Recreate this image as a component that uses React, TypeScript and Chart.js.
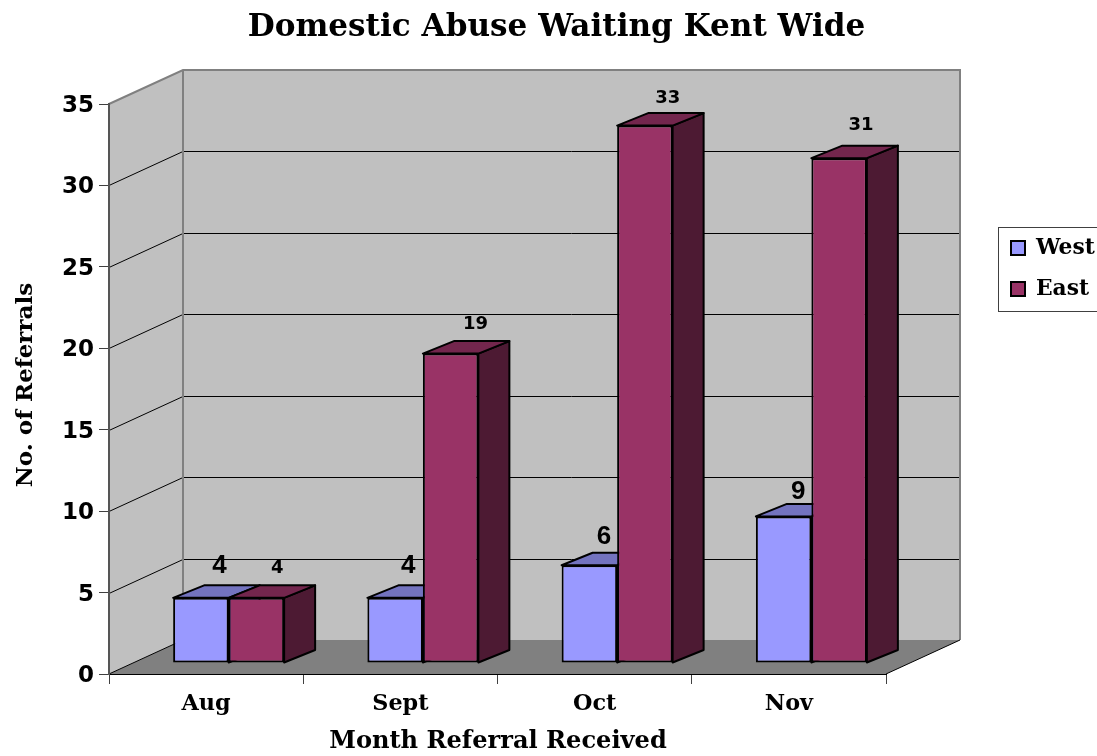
import { useEffect, useRef } from "react";
import { Chart, registerables } from "chart.js";

Chart.register(...registerables);

const titleText = "Domestic Abuse Waiting Kent Wide";
const xAxisTitle = "Month Referral Received";
const yAxisTitle = "No. of Referrals";
const months = ["Aug", "Sept", "Oct", "Nov"];
const westValues = [4, 4, 6, 9];
const eastValues = [4, 19, 33, 31];

const WEST = "#9999FF";
const WEST_TOP = "#7373BF";
const EAST = "#993366";
const EAST_TOP = "#73264D";
const EAST_SIDE = "#4D1A33";
const WALL = "#C0C0C0";
const FLOOR = "#808080";

const SERIF = "'DejaVu Serif'";
const SANS = "'DejaVu Sans'";

// projection of the 3D box
const WALL_DX = 74;
const WALL_DY = -34;
const BAR_DX = 22.5;
const BAR_DY = -11;
const DEPTH_DX = 31;
const DEPTH_DY = -12.5;

// small per-label nudges of the value labels, relative to the bar top
const westLabelDx = [18.5, 13, 14.5, 14.5];
const westLabelDy = [-32, -32, -28, -25];
const eastLabelDx = [21, 25, 23, 22];
const eastLabelDy = [-30, -29.5, -27.7, -33];

// font size that makes a text as wide as it is in the reference
const fitSize = (text: string, family: string, target: number) => {
  const c = document.createElement("canvas").getContext("2d")!;
  c.font = `bold 100px ${family}`;
  return Math.round((1000 * target) / c.measureText(text).width) / 10;
};

const titleSize = fitSize(titleText, SERIF, 617);
const xTitleSize = fitSize(xAxisTitle, SERIF, 337);
const yTitleSize = fitSize(yAxisTitle, SERIF, 204);
const xTickSize = fitSize("Aug", SERIF, 49);
const yTickSize = fitSize("35", SANS, 32);
const legendSize = fitSize("West", SERIF, 59);
const legendPadding = 41 - legendSize;
const titleTop = 28 - 0.6 * titleSize;

const poly = (ctx: CanvasRenderingContext2D, pts: number[][], fill?: string, stroke?: string, lw = 1) => {
  ctx.beginPath();
  pts.forEach(([x, y], i) => (i ? ctx.lineTo(x, y) : ctx.moveTo(x, y)));
  ctx.closePath();
  if (fill) {
    ctx.fillStyle = fill;
    ctx.fill();
  }
  if (stroke) {
    ctx.strokeStyle = stroke;
    ctx.lineWidth = lw;
    ctx.lineJoin = "round";
    ctx.stroke();
  }
};

const scene = {
  id: "scene3d",
  beforeLayout(chart: any) {
    const lg = chart.legend;
    if (lg && !lg.__patched) {
      lg.__patched = true;
      const fit = lg.fit;
      lg.fit = function (this: any) {
        fit.call(this);
        this.width = 211; // reserve the right margin beside the plot
      };
    }
  },
  afterLayout(chart: any) {
    // title is centred over the plot and its wall, not the whole page
    if (chart.titleBlock) {
      chart.titleBlock.left = 0;
      chart.titleBlock.right = 1113;
    }
    const lg = chart.legend;
    if (lg) {
      lg.left = 1011 - legendPadding;
      lg.top = 241 - (legendSize - 14) / 2 - legendPadding;
      lg.right = 1097;
      lg.bottom = 500;
    }
  },
  beforeDraw(chart: any) {
    const { ctx, chartArea: a, scales } = chart;
    const { left: l, right: r, top: t, bottom: b } = a;
    const dx = WALL_DX;
    const dy = WALL_DY;
    ctx.save();
    ctx.fillStyle = "#fff";
    ctx.fillRect(0, 0, chart.width, chart.height);
    // back and side walls
    poly(ctx, [[l + dx, t + dy], [r + dx, t + dy], [r + dx, b + dy], [l + dx, b + dy]], WALL);
    poly(ctx, [[l, t], [l + dx, t + dy], [l + dx, b + dy], [l, b]], WALL);
    // grid on the walls
    ctx.strokeStyle = "#000";
    ctx.lineWidth = 1;
    scales.y.ticks.forEach((tk: any) => {
      if (tk.value === 0 || tk.value === 35) return;
      const y = Math.round(scales.y.getPixelForValue(tk.value)) + 0.5;
      ctx.beginPath();
      ctx.moveTo(l, y);
      ctx.lineTo(l + dx, y + dy);
      ctx.lineTo(r + dx, y + dy);
      ctx.stroke();
    });
    // wall outlines
    ctx.strokeStyle = FLOOR;
    ctx.lineWidth = 2;
    ctx.beginPath();
    ctx.moveTo(l, t);
    ctx.lineTo(l + dx, t + dy);
    ctx.lineTo(r + dx, t + dy);
    ctx.lineTo(r + dx, b + dy);
    ctx.moveTo(l + dx, t + dy);
    ctx.lineTo(l + dx, b + dy);
    ctx.stroke();
    // floor
    poly(ctx, [[l, b], [l + dx, b + dy], [r + dx, b + dy], [r, b]], FLOOR);
    ctx.strokeStyle = "#000";
    ctx.lineWidth = 1;
    ctx.beginPath();
    ctx.moveTo(l, b);
    ctx.lineTo(l + dx, b + dy);
    ctx.moveTo(r, b);
    ctx.lineTo(r + dx, b + dy);
    ctx.stroke();
    // legend frame
    ctx.fillStyle = "#fff";
    ctx.strokeStyle = "#404040";
    ctx.lineWidth = 1;
    ctx.fillRect(998.5, 227.5, 110, 84);
    ctx.strokeRect(998.5, 227.5, 110, 84);
    // axis titles
    ctx.fillStyle = "#000";
    ctx.textAlign = "center";
    ctx.textBaseline = "middle";
    ctx.font = `bold ${xTitleSize}px ${SERIF}`;
    ctx.fillText(xAxisTitle, 498, 742);
    ctx.translate(26, 385);
    ctx.rotate(-Math.PI / 2);
    ctx.font = `bold ${yTitleSize}px ${SERIF}`;
    ctx.fillText(yAxisTitle, 0, 0);
    ctx.restore();
  },
  beforeDatasetsDraw(chart: any) {
    const { ctx } = chart;
    ctx.save();
    ctx.translate(BAR_DX, BAR_DY);
    [
      { idx: 0, top: WEST_TOP, side: WEST_TOP },
      { idx: 1, top: EAST_TOP, side: EAST_SIDE },
    ].forEach(({ idx, top, side }) => {
      chart.getDatasetMeta(idx).data.forEach((bar: any) => {
        const { x, y, base, width } = bar;
        const x0 = x - width / 2;
        const x1 = x + width / 2;
        poly(ctx, [[x1, y], [x1 + DEPTH_DX, y + DEPTH_DY], [x1 + DEPTH_DX, base + DEPTH_DY], [x1, base]], side, "#000", 2);
        poly(ctx, [[x0, y], [x0 + DEPTH_DX, y + DEPTH_DY], [x1 + DEPTH_DX, y + DEPTH_DY], [x1, y]], top, "#000", 2);
      });
    });
  },
  afterDatasetsDraw(chart: any) {
    const { ctx } = chart;
    ctx.textAlign = "center";
    ctx.textBaseline = "middle";
    ctx.fillStyle = "#000";
    chart.getDatasetMeta(0).data.forEach((bar: any, i: number) => {
      ctx.font = "bold 26px 'Liberation Sans'";
      ctx.fillText(String(westValues[i]), bar.x + westLabelDx[i], bar.y + westLabelDy[i]);
    });
    chart.getDatasetMeta(1).data.forEach((bar: any, i: number) => {
      ctx.font = `bold 18px ${SANS}`;
      ctx.fillText(String(eastValues[i]), bar.x + eastLabelDx[i], bar.y + eastLabelDy[i]);
    });
    ctx.restore();
  },
};

export default function App() {
  const ref = useRef<HTMLCanvasElement>(null);
  useEffect(() => {
    const chart = new Chart(ref.current!, {
      type: "bar",
      data: {
        labels: months,
        datasets: [
          { label: "West", data: westValues, backgroundColor: WEST, borderColor: "#000", borderWidth: 2, borderSkipped: false },
          { label: "East", data: eastValues, backgroundColor: EAST, borderColor: "#000", borderWidth: 2, borderSkipped: false },
        ],
      },
      plugins: [scene],
      options: {
        responsive: false,
        animation: false,
        devicePixelRatio: 1,
        layout: { autoPadding: false, padding: 0 },
        datasets: { bar: { categoryPercentage: 0.5714, barPercentage: 1 } },
        scales: {
          x: {
            afterFit: (s: any) => {
              s.height = 82;
            },
            grid: { drawOnChartArea: false, drawTicks: true, tickLength: 10, color: "#404040", lineWidth: 1 },
            border: { color: "#000", width: 1 },
            ticks: { color: "#000", padding: 7, maxRotation: 0, font: { family: SERIF, size: xTickSize, weight: "bold" } },
          },
          y: {
            min: 0,
            max: 35,
            afterFit: (s: any) => {
              s.width = 109;
            },
            grid: { drawOnChartArea: false, drawTicks: true, tickLength: 10, color: "#404040", lineWidth: 1 },
            border: { color: "#555", width: 2 },
            ticks: { stepSize: 5, color: "#000", padding: 5, labelOffset: 2, font: { family: SANS, size: yTickSize, weight: "bold" } },
          },
        },
        plugins: {
          tooltip: { enabled: false },
          title: {
            display: true,
            text: titleText,
            color: "#000",
            padding: { top: titleTop, bottom: 104 - 1.2 * titleSize - titleTop },
            font: { family: SERIF, size: titleSize, weight: "bold" },
          },
          legend: {
            position: "right",
            align: "start",
            labels: {
              boxWidth: 14,
              boxHeight: 14,
              padding: legendPadding,
              color: "#000",
              font: { family: SERIF, size: legendSize, weight: "bold" },
            },
          },
        },
      },
    } as any);
    return () => chart.destroy();
  }, []);
  return (
    <canvas
      ref={ref}
      width={1097}
      height={756}
      style={{ position: "absolute", left: 0, top: 0, display: "block", width: 1097, height: 756 }}
    />
  );
}
